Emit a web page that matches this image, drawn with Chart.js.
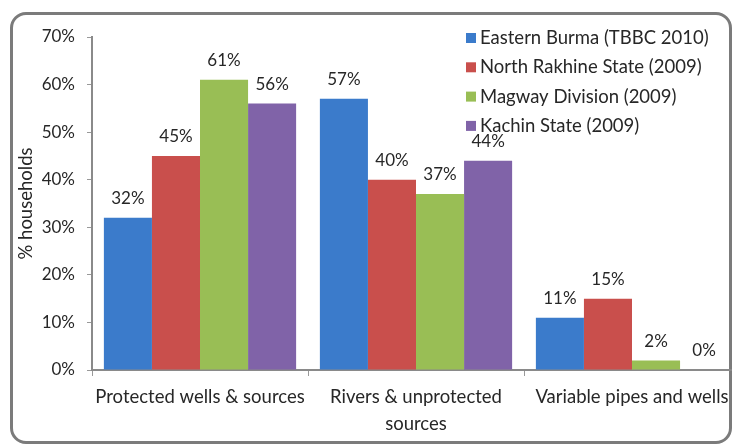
<!DOCTYPE html>
<html>
<head>
<meta charset="utf-8">
<script src="https://cdn.jsdelivr.net/npm/chart.js@4.4.0/dist/chart.umd.min.js"></script>
<style>
  html, body { margin: 0; padding: 0; background: #fff; overflow: hidden; }
  #wrap { position: relative; width: 732px; height: 448px; overflow: hidden; }
  #frame {
    position: absolute; left: 10px; top: 12px; width: 716px; height: 426px;
    border: 3px solid #7b7b7b; border-radius: 16px;
  }
  #chart { position: absolute; left: 0; top: 0; }
</style>
</head>
<body>
<div id="wrap">
  <div id="frame"></div>
  <canvas id="chart" width="760" height="448"></canvas>
</div>
<script>
// water source categories and survey results (% of households)
const categories = ['Protected wells & sources', ['Rivers & unprotected', 'sources'], 'Variable pipes and wells'];
const seriesNames = ['Eastern Burma (TBBC 2010)', 'North Rakhine State (2009)', 'Magway Division (2009)', 'Kachin State (2009)'];
const easternBurma = [32, 57, 11];
const northRakhine = [45, 40, 15];
const magway = [61, 37, 2];
const kachin = [56, 44, 0];
const yTicks = [0, 10, 20, 30, 40, 50, 60, 70];

const colors = ['#3b7bcb', '#c94f4c', '#99be55', '#8063a8'];
const FONT = 'Lato, "Open Sans", sans-serif';
const TEXT = '#272727';

// percentage labels above each bar
const barLabels = {
  id: 'barLabels',
  afterDatasetsDraw(chart) {
    const ctx = chart.ctx;
    ctx.save();
    ctx.font = '17px ' + FONT;
    ctx.fillStyle = TEXT;
    ctx.textAlign = 'center';
    ctx.textBaseline = 'middle';
    chart.data.datasets.forEach((ds, i) => {
      chart.getDatasetMeta(i).data.forEach((bar, j) => {
        ctx.fillText(ds.data[j] + '%', bar.x, bar.y - 19);
      });
    });
    ctx.restore();
  }
};

// vertical legend in the upper right corner
const cornerLegend = {
  id: 'cornerLegend',
  afterDraw(chart) {
    const ctx = chart.ctx;
    ctx.save();
    ctx.font = '18.5px ' + FONT;
    ctx.textBaseline = 'middle';
    chart.data.datasets.forEach((ds, i) => {
      const y = 38 + i * 29.3;
      ctx.fillStyle = ds.backgroundColor;
      ctx.fillRect(466, y - 5, 10, 10);
      ctx.fillStyle = TEXT;
      ctx.fillText(ds.label, 480, y);
    });
    ctx.restore();
  }
};

const seriesData = [easternBurma, northRakhine, magway, kachin];

new Chart(document.getElementById('chart'), {
  type: 'bar',
  data: {
    labels: categories,
    datasets: seriesData.map((d, i) => ({
      label: seriesNames[i],
      data: d,
      backgroundColor: colors[i],
      borderWidth: 0,
      categoryPercentage: 0.89,
      barPercentage: 1.0
    }))
  },
  options: {
    responsive: false,
    devicePixelRatio: 1,
    animation: false,
    layout: { padding: { left: 0, top: 37, right: 20, bottom: 0 } },
    plugins: {
      legend: { display: false },
      tooltip: { enabled: false }
    },
    scales: {
      x: {
        grid: { drawOnChartArea: false, drawTicks: true, tickLength: 6, color: '#999', offset: true },
        border: { color: '#8a8a8a', width: 2 },
        ticks: {
          color: TEXT,
          font: { family: FONT, size: 18.5, lineHeight: 1.45 },
          padding: 8,
          maxRotation: 0,
          autoSkip: false
        },
        afterFit: s => { s.height = 78; }
      },
      y: {
        min: 0,
        max: 70,
        afterBuildTicks: s => { s.ticks = yTicks.map(v => ({ value: v })); },
        grid: { drawOnChartArea: false, drawTicks: true, tickLength: 5, color: '#999' },
        border: { color: '#8a8a8a', width: 2 },
        ticks: {
          color: TEXT,
          font: { family: FONT, size: 17 },
          padding: 12,
          callback: v => v + '%'
        },
        title: {
          display: true,
          text: '% households',
          color: TEXT,
          font: { family: FONT, size: 18.5 },
          padding: { top: 15, bottom: 0 }
        },
        afterFit: s => { s.width = 92; }
      }
    }
  },
  plugins: [barLabels, cornerLegend]
});
</script>
</body>
</html>
